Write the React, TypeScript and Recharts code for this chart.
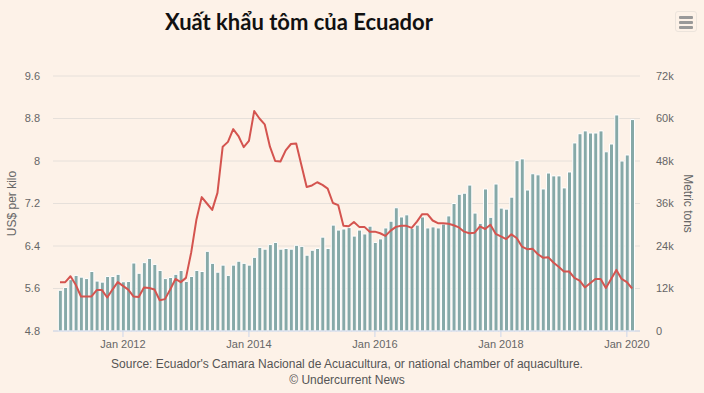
import React from 'react';
import { ComposedChart, Bar, Line, XAxis, YAxis, CartesianGrid } from 'recharts';

// monthly series, first month = Jan 2011
const START_YEAR = 2011;

// export volume, thousand metric tons
const TONS = [
    11.5, 12.3, 14.5, 15.7, 15.2, 14.8, 16.8, 14.1, 13.8, 15.4, 15.4, 16.0,
    13.9, 14.0, 19.2, 16.3, 19.3, 20.5, 18.8, 17.1, 14.8, 15.1, 16.0, 17.1,
    14.0, 15.4, 17.1, 16.8, 22.5, 19.1, 16.6, 18.6, 15.7, 18.6, 19.7, 19.1,
    18.6, 20.8, 23.6, 23.1, 24.4, 25.0, 23.1, 23.3, 23.1, 24.2, 23.9, 21.4,
    22.8, 23.3, 26.5, 23.3, 29.9, 28.5, 28.8, 29.2, 26.8, 28.5, 27.4, 29.6,
    25.0, 26.0, 29.1, 31.0, 34.8, 32.2, 32.8, 29.0, 29.9, 32.2, 29.1, 29.4,
    29.1, 30.2, 32.5, 36.0, 38.6, 38.9, 41.2, 33.3, 30.4, 40.1, 32.1, 41.5,
    34.7, 34.4, 37.8, 48.1, 48.6, 39.8, 44.4, 44.1, 40.1, 44.6, 43.8, 43.8,
    40.4, 44.9, 53.1, 55.7, 56.5, 55.9, 55.9, 56.5, 50.6, 52.8, 61.0, 48.0,
    49.7, 59.7,
];

// average price, US$ per kilo
const PRICE = [
    5.72, 5.72, 5.83, 5.67, 5.45, 5.45, 5.45, 5.57, 5.57, 5.43, 5.58, 5.72,
    5.65, 5.58, 5.45, 5.44, 5.62, 5.61, 5.58, 5.38, 5.40, 5.58, 5.78, 5.72,
    5.80, 6.28, 6.90, 7.32, 7.20, 7.08, 7.40, 8.27, 8.36, 8.60, 8.47, 8.26,
    8.38, 8.94, 8.80, 8.69, 8.27, 8.00, 7.99, 8.20, 8.32, 8.33, 7.92, 7.51,
    7.54, 7.60, 7.55, 7.48, 7.21, 7.17, 6.78, 6.77, 6.85, 6.76, 6.76, 6.67,
    6.67, 6.64, 6.59, 6.69, 6.76, 6.78, 6.78, 6.74, 6.86, 7.00, 7.00, 6.88,
    6.83, 6.83, 6.82, 6.79, 6.75, 6.67, 6.64, 6.65, 6.77, 6.72, 6.80, 6.63,
    6.58, 6.53, 6.62, 6.55, 6.39, 6.34, 6.35, 6.25, 6.18, 6.19, 6.09, 6.01,
    5.92, 5.92, 5.80, 5.75, 5.62, 5.70, 5.78, 5.78, 5.61, 5.78, 5.95, 5.78,
    5.72, 5.60,
];

const X_TICK_LABELS = ['Jan 2012', 'Jan 2014', 'Jan 2016', 'Jan 2018', 'Jan 2020'];
const PRICE_TICKS = [4.8, 5.6, 6.4, 7.2, 8, 8.8, 9.6];
const TON_TICKS = [0, 12000, 24000, 36000, 48000, 60000, 72000];

const data = TONS.map((t, i) => ({ i, tons: t * 1000, price: PRICE[i] }));
const xTicks = X_TICK_LABELS.map(l => (Number(l.slice(4)) - START_YEAR) * 12);
const xLabel = (v: number) => X_TICK_LABELS[xTicks.indexOf(v)] ?? '';

const BG = '#fdf2e8';
const FONT = '"Liberation Sans", Arial, sans-serif';
const tickStyle = { fill: '#666666', fontSize: 11, fontFamily: FONT };

export default function App() {
    return (
        <div style={{ position: 'absolute', left: 0, top: 0, width: 704, height: 393, background: BG, fontFamily: FONT }}>
            <div style={{ position: 'absolute', left: 0, width: 598, top: 8, textAlign: 'center', fontFamily: 'Lato, "Noto Sans", sans-serif', fontWeight: 700, fontSize: 22, color: '#111' }}>
                Xuất khẩu tôm của Ecuador
            </div>
            {/* export menu button */}
            <div style={{ position: 'absolute', left: 675, top: 11, width: 22, height: 21, borderRadius: 3, border: '1px solid #ece4dc', boxSizing: 'border-box' }}>
                {[4, 9, 14].map(y => (
                    <div key={y} style={{ position: 'absolute', left: 3, top: y, width: 14, height: 3, borderRadius: 1, background: '#999' }} />
                ))}
            </div>

            <ComposedChart width={704} height={393} data={data} margin={{ top: 76, right: 0, bottom: 32, left: 0 }}>
                <CartesianGrid yAxisId="price" vertical={false} stroke="#e6e0da" />
                <XAxis
                    dataKey="i"
                    type="number"
                    domain={[-1.33, 110.5]}
                    ticks={xTicks}
                    tickFormatter={xLabel}
                    height={30}
                    stroke="#ccd6eb"
                    tickSize={6}
                    tickMargin={3}
                    tick={tickStyle}
                />
                <YAxis
                    yAxisId="price"
                    orientation="left"
                    width={53}
                    domain={[4.8, 9.6]}
                    ticks={PRICE_TICKS}
                    axisLine={false}
                    tickLine={false}
                    tickSize={0}
                    tickMargin={13}
                    tick={tickStyle}
                    label={{ value: 'US$ per kilo', angle: -90, position: 'insideLeft', offset: 12, style: { textAnchor: 'middle', fill: '#666666', fontSize: 12, fontFamily: FONT } }}
                />
                <YAxis
                    yAxisId="tons"
                    orientation="right"
                    width={64}
                    domain={[0, 72000]}
                    ticks={TON_TICKS}
                    tickFormatter={(v: number) => (v === 0 ? '0' : `${v / 1000}k`)}
                    axisLine={false}
                    tickLine={false}
                    tickSize={0}
                    tickMargin={16}
                    tick={{ ...tickStyle, textAnchor: 'start' }}
                    label={{ value: 'Metric tons', angle: 90, position: 'insideRight', offset: 16, style: { textAnchor: 'middle', fill: '#666666', fontSize: 12, fontFamily: FONT } }}
                />
                <Bar yAxisId="tons" dataKey="tons" barSize={4} fill="#86a9a8" stroke="#ffffff" strokeWidth={1} isAnimationActive={false} />
                <Line yAxisId="price" dataKey="price" stroke="#d4544f" strokeWidth={2} dot={false} strokeLinejoin="round" isAnimationActive={false} />
            </ComposedChart>

            <div style={{ position: 'absolute', left: 0, width: 694, top: 356, textAlign: 'center', fontSize: 12, color: '#555', lineHeight: '16px' }}>
                Source: Ecuador's Camara Nacional de Acuacultura, or national chamber of aquaculture.
                <br />© Undercurrent News
            </div>
        </div>
    );
}
